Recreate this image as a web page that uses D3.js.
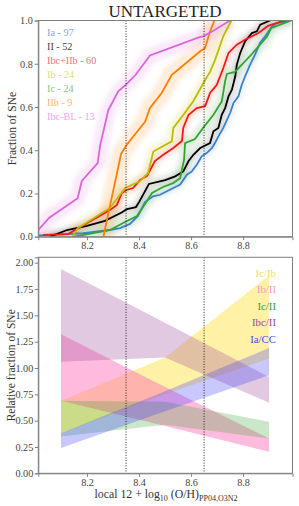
<!DOCTYPE html>
<html>
<head>
<meta charset="utf-8">
<script src="https://cdn.jsdelivr.net/npm/d3@7"></script>
<style>
body{margin:0;background:#fff;}
text{font-family:"Liberation Serif","DejaVu Serif",serif;}
.axis path,.axis line{stroke:#808080;}
.axis text{fill:#444;font-size:10.2px;font-family:"Liberation Serif",serif;}
</style>
</head>
<body>
<div id="chart"></div>
<script>
var w=299, h=506

// ---- top panel data: cumulative fraction vs local metallicity ----
var cdfNames=["Ia","II","Ibc+IIb","Ib","Ic","IIb","Ibc-BL"]
var cdfCounts=[97,52,60,24,24,9,13]
var cdfColors=["#3a82c8","#000000","#ee1c1c","#bcbc00","#34a234","#ff7f00","#d966d9"]
var cdfLegend=["#7fa9d9","#444444","#f07272","#e0e070","#85c885","#ffb373","#eea2ee"]

var iaX=[7.98,8.013,8.185,8.288,8.327,8.365,8.396,8.423,8.454,8.481,8.507,8.532,8.558,8.571,8.584,8.603,8.622,8.641,8.66,8.68,8.692,8.705,8.724,8.75,8.763,8.782,8.795,8.808,8.827,8.846,8.865,8.885,8.911,8.93,8.981]
var iaY=[0,0.006,0.016,0.031,0.04,0.059,0.096,0.16,0.187,0.194,0.21,0.225,0.241,0.264,0.287,0.302,0.333,0.372,0.387,0.41,0.433,0.464,0.503,0.572,0.618,0.649,0.703,0.742,0.796,0.842,0.896,0.927,0.973,0.988,1]
var iiX=[8.058,8.123,8.196,8.269,8.333,8.354,8.388,8.4,8.438,8.5,8.539,8.57,8.59,8.609,8.635,8.673,8.686,8.705,8.718,8.731,8.744,8.757,8.77,8.776,8.789,8.808,8.834,8.853,8.866,8.904]
var iiY=[0,0.031,0.049,0.073,0.112,0.128,0.137,0.16,0.244,0.262,0.279,0.302,0.349,0.379,0.41,0.433,0.488,0.503,0.564,0.595,0.649,0.68,0.742,0.796,0.85,0.904,0.942,0.95,0.981,1]
var ibcX=[8.031,8.127,8.288,8.315,8.334,8.352,8.377,8.404,8.431,8.461,8.493,8.532,8.565,8.57,8.59,8.622,8.654,8.673,8.699,8.724,8.744,8.776,8.812,8.859,8.896,8.954,8.981]
var ibcY=[0.008,0.012,0.123,0.147,0.202,0.216,0.225,0.262,0.281,0.35,0.379,0.41,0.443,0.503,0.563,0.595,0.604,0.665,0.703,0.78,0.85,0.888,0.914,0.942,0.975,0.998,1]
var ibX=[8.143,8.165,8.288,8.347,8.403,8.435,8.455,8.526,8.532,8.57,8.609,8.635,8.654,8.673,8.692,8.711,8.724,8.755]
var ibY=[0,0.04,0.133,0.225,0.256,0.295,0.394,0.441,0.503,0.563,0.628,0.683,0.725,0.762,0.817,0.882,0.928,1]
var icX=[8.15,8.289,8.346,8.392,8.423,8.45,8.492,8.531,8.558,8.573,8.577,8.615,8.646,8.686,8.718,8.731,8.738,8.769,8.834,8.865,8.892,8.908,8.94,8.985]
var icY=[0,0.031,0.068,0.096,0.151,0.202,0.23,0.248,0.271,0.355,0.433,0.452,0.503,0.564,0.626,0.719,0.753,0.762,0.845,0.888,0.926,0.965,0.98,1]
var iibX=[8.263,8.331,8.352,8.423,8.442,8.487,8.526,8.558,8.635,8.654,8.673,8.69]
var iibY=[0,0.383,0.424,0.531,0.595,0.665,0.749,0.78,0.858,0.873,0.95,1]
var blX=[7.99,8.013,8.055,8.164,8.18,8.241,8.25,8.282,8.32,8.352,8.387,8.442,8.635,8.647,8.692,8.75]
var blY=[0,0.031,0.088,0.178,0.258,0.34,0.42,0.586,0.672,0.706,0.749,0.838,0.924,0.927,0.957,1]
var cdfX=[iaX,iiX,ibcX,ibX,icX,iibX,blX]
var cdfY=[iaY,iiY,ibcY,ibY,icY,iibY,blY]

// ---- bottom panel data: relative fraction bands at three metallicities ----
var bandX=[8.1,8.5,8.9]
var bandNames=["Ic/Ib","Ib/II","Ic/II","Ibc/II","Ia/CC"]
var bandFill=["#ffd700","#ff69b4","#2ca02c","#9b4f9b","#3b3bff"]
var bandText=["#f2dc6a","#ff99cc","#3c9a3c","#9a4a9a","#4a4aff"]
var bandLo=[[0.38,0.75,1.09],[0.69,0.45,0.205],[0.35,0.46,0.33],[1.06,1.10,0.67],[0.24,0.59,0.93]]
var bandHi=[[0.69,1.10,1.88],[1.32,0.82,0.33],[0.69,0.68,0.49],[1.94,1.43,0.915],[0.38,0.78,1.19]]
var bandOpacity=[0.35,0.45,0.25,0.3,0.28]

var cuts=[8.35,8.65]
var xTicks=[8.2,8.4,8.6,8.8]
var yTopTicks=[0,0.2,0.4,0.6,0.8,1.0]
var yBotTicks=[0,0.25,0.5,0.75,1.0,1.25,1.5,1.75,2.0]

var left=38.3, right=292.5

var svg=d3.select("#chart").append("svg")
          .attr("width",w)
          .attr("height",h)

var defs=svg.append("defs")
defs.append("filter").attr("id","fuzz").attr("x","-20%").attr("y","-20%").attr("width","140%").attr("height","140%")
    .append("feGaussianBlur").attr("stdDeviation",2.6)
defs.append("clipPath").attr("id","clipTop")
    .append("rect").attr("x",left).attr("y",20.5).attr("width",right-left).attr("height",236.7-20.5)
defs.append("clipPath").attr("id","clipBot")
    .append("rect").attr("x",left).attr("y",257.3).attr("width",right-left).attr("height",473.3-257.3)

var xScale=d3.scaleLinear().domain([8.0127,8.99]).range([left,right])
var yTop=d3.scaleLinear().domain([0,1]).range([236.7,20.5])
var yBot=d3.scaleLinear().domain([0,2.051]).range([473.3,257.3])

//Title
svg.append("text")
   .attr("x",165).attr("y",17)
   .attr("text-anchor","middle")
   .style("font-size","17px")
   .attr("fill","#222")
   .text("UNTARGETED")

// ===== top panel =====
var topG=svg.append("g").attr("clip-path","url(#clipTop)")

var line=d3.line()
           .x(function(d){return xScale(d[0])})
           .y(function(d){return yTop(d[1])})

//soft spread round each curve, wider for the small samples
var fuzz=topG.append("g").attr("filter","url(#fuzz)")
cdfNames.forEach(function(n,i){
    var pts=d3.zip(cdfX[i],cdfY[i])
    fuzz.append("path")
        .attr("d",line(pts))
        .attr("fill","none")
        .attr("stroke",cdfColors[i]=="#000000"?"#555":cdfColors[i])
        .attr("stroke-width",56/Math.sqrt(cdfCounts[i]))
        .attr("stroke-linejoin","round")
        .attr("opacity",cdfColors[i]=="#000000"?0.2:0.15)
})
cdfNames.forEach(function(n,i){
    var pts=d3.zip(cdfX[i],cdfY[i])
    topG.append("path")
       .attr("d",line(pts))
       .attr("fill","none")
       .attr("stroke",cdfColors[i])
       .attr("stroke-width",1.8)
       .attr("stroke-linejoin","miter")
})

cuts.forEach(function(c){
    svg.append("line")
       .attr("x1",xScale(c)).attr("x2",xScale(c))
       .attr("y1",yTop(1)).attr("y2",yTop(0))
       .attr("stroke","#111").attr("stroke-width",0.9)
       .attr("stroke-dasharray","1,1.6")
})

svg.append("g").attr("class","axis")
   .attr("transform","translate(0,236.7)")
   .call(d3.axisBottom(xScale).tickValues(xTicks).tickSize(3.5).tickPadding(2).tickFormat(d3.format(".1f")))
svg.append("g").attr("class","axis")
   .attr("transform","translate("+left+",0)")
   .call(d3.axisLeft(yTop).tickValues(yTopTicks).tickSize(3.5).tickPadding(2).tickFormat(d3.format(".1f")))
svg.append("rect")
   .attr("x",left).attr("y",20.5).attr("width",right-left).attr("height",236.7-20.5)
   .attr("fill","none").attr("stroke","#808080").attr("stroke-width",1)

cdfNames.forEach(function(n,i){
    svg.append("text")
       .attr("x",47).attr("y",32.5+14*i)
       .attr("dominant-baseline","central")
       .style("font-size","10.2px")
       .attr("fill",cdfLegend[i])
       .text(n+" - "+cdfCounts[i])
})

svg.append("text")
   .attr("transform","translate(11.5,128.6) rotate(-90)")
   .attr("text-anchor","middle").attr("dominant-baseline","central")
   .style("font-size","11.5px").attr("fill","#333")
   .text("Fraction of SNe")

// ===== bottom panel =====
var bot=svg.append("g").attr("clip-path","url(#clipBot)")
var area=d3.area()
           .x(function(d){return xScale(d[0])})
           .y0(function(d){return yBot(d[1])})
           .y1(function(d){return yBot(d[2])})

bandNames.forEach(function(n,i){
    var pts=d3.zip(bandX,bandLo[i],bandHi[i])
    bot.append("path")
       .attr("d",area(pts))
       .attr("fill",bandFill[i])
       .attr("fill-opacity",bandOpacity[i])
})

cuts.forEach(function(c){
    svg.append("line")
       .attr("x1",xScale(c)).attr("x2",xScale(c))
       .attr("y1",257.3).attr("y2",473.3)
       .attr("stroke","#111").attr("stroke-width",0.9)
       .attr("stroke-dasharray","1,1.6")
})

svg.append("g").attr("class","axis")
   .attr("transform","translate(0,473.3)")
   .call(d3.axisBottom(xScale).tickValues(xTicks).tickSize(3.5).tickPadding(2).tickFormat(d3.format(".1f")))
svg.append("g").attr("class","axis")
   .attr("transform","translate("+left+",0)")
   .call(d3.axisLeft(yBot).tickValues(yBotTicks).tickSize(3.5).tickPadding(1.5).tickFormat(d3.format(".2f")))
svg.append("rect")
   .attr("x",left).attr("y",257.3).attr("width",right-left).attr("height",473.3-257.3)
   .attr("fill","none").attr("stroke","#808080").attr("stroke-width",1)

bandNames.forEach(function(n,i){
    svg.append("text")
       .attr("x",276).attr("y",272.7+16.5*i)
       .attr("text-anchor","end").attr("dominant-baseline","central")
       .style("font-size","10.8px")
       .attr("fill",bandText[i])
       .text(n)
})

svg.append("text")
   .attr("transform","translate(10.5,365.3) rotate(-90)")
   .attr("text-anchor","middle").attr("dominant-baseline","central")
   .style("font-size","11.5px").attr("fill","#333")
   .text("Relative fraction of SNe")

var xl=svg.append("text")
   .attr("x",166).attr("y",498)
   .attr("text-anchor","middle")
   .style("font-size","11.8px").attr("fill","#333")
xl.append("tspan").text("local 12 + log")
xl.append("tspan").attr("dy",2.5).style("font-size","8px").text("10")
xl.append("tspan").attr("dy",-2.5).text(" (O/H)")
xl.append("tspan").attr("dy",2.5).style("font-size","8px").text("PP04,O3N2")
</script>
</body>
</html>
